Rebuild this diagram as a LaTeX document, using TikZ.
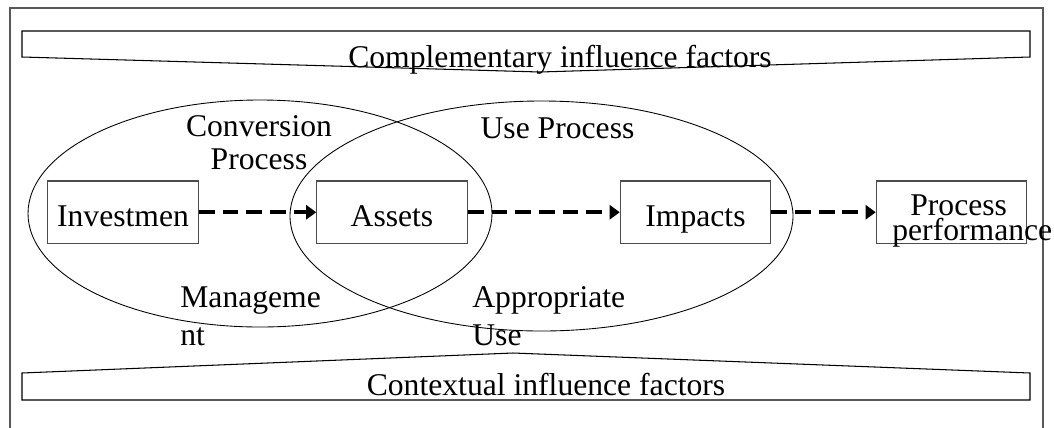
\documentclass[tikz,border=0pt]{standalone}
\usepackage{fontspec}
\setmainfont{Liberation Serif}
\usepackage{tikz}
\usetikzlibrary{arrows.meta}
\tikzstyle{box}=[draw=black!70, line width=0.6pt, shape=rectangle, minimum width=3.01cm, minimum height=1.25cm, inner sep=0pt, text height=15.8pt, text depth=0pt, font=\fontsize{18}{18}\selectfont]
\tikzstyle{plain text}=[inner sep=0pt, font=\fontsize{18}{18}\selectfont]
\tikzstyle{flow}=[-{Triangle[length=0.2cm, width=0.28cm]}, line width=2pt, dash pattern=on 9pt off 4.5pt]
\tikzstyle{banner}=[draw=black, line width=0.6pt]
\tikzstyle{frame}=[draw=black!65, line width=0.7pt]
\tikzstyle{region}=[draw=black, line width=0.5pt]
\pgfdeclarelayer{nodelayer}
\pgfdeclarelayer{edgelayer}
\pgfsetlayers{main,nodelayer,edgelayer}

\begin{document}
\begin{tikzpicture}
	\useasboundingbox (0, 0) rectangle (21.08, -8.54);
	\draw [style=frame] (0.2, -8.8) -- (0.2, -0.16) -- (20.86, -0.16) -- (20.86, -8.8);
	\draw [style=banner] (0.44, -1.14) -- (0.44, -0.62) -- (20.6, -0.62) -- (20.6, -1.14) -- (10.8, -1.44) -- cycle;
	\draw [style=banner] (0.44, -7.46) -- (10.26, -7.06) -- (20.6, -7.46) -- (20.6, -8.0) -- (0.44, -8.0) -- cycle;
	\draw [style=region] (5.2, -4.27) ellipse [x radius=4.64cm, y radius=2.27cm];
	\draw [style=region] (10.83, -4.32) ellipse [x radius=5.03cm, y radius=2.3cm];
	\begin{pgfonlayer}{nodelayer}
		\node [style=box] (0) at (2.46, -4.245) {Investmen};
		\node [style=box] (1) at (7.84, -4.245) {Assets};
		\node [style=box] (2) at (13.91, -4.245) {Impacts};
		\node [style=box] (3) at (19.03, -4.245) {};
		\node [style=plain text, anchor=base west, align=left, font=\fontsize{18}{13.8}\selectfont] (4) at (17.84, -4.8) {\hspace{0.36cm}Process\\performance};
		\node [style=plain text, anchor=base] (5) at (11.2, -1.35) {Complementary influence factors};
		\node [style=plain text, anchor=base] (6) at (10.92, -7.9) {Contextual influence factors};
		\node [style=plain text, anchor=base, align=center, font=\fontsize{18}{18.9}\selectfont] (7) at (5.18, -3.39) {Conversion\\Process};
		\node [style=plain text, anchor=base] (8) at (11.15, -2.77) {Use Process};
		\node [style=plain text, anchor=base west, align=left, font=\fontsize{18}{21.5}\selectfont] (9) at (3.6, -6.9) {Manageme\\nt};
		\node [style=plain text, anchor=base west, align=left, font=\fontsize{18}{21.5}\selectfont] (10) at (9.44, -6.9) {Appropriate\\Use};
	\end{pgfonlayer}
	\begin{pgfonlayer}{edgelayer}
		\draw [style=flow] (0) to (1);
		\draw [style=flow] (1) to (2);
		\draw [style=flow] (2) to (3);
	\end{pgfonlayer}
\end{tikzpicture}
\end{document}
